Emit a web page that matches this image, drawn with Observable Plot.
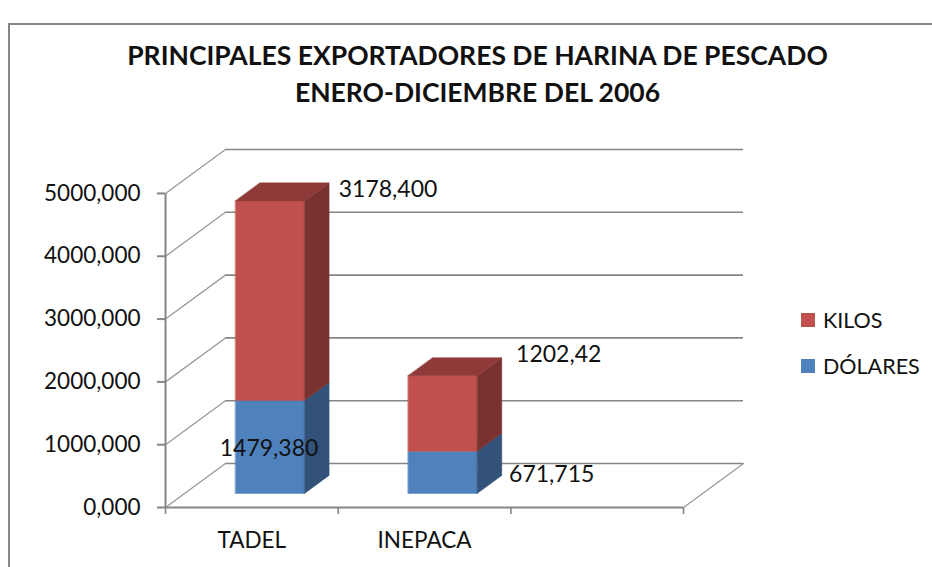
<!DOCTYPE html>
<html lang="es">
<head>
<meta charset="utf-8">
<script src="https://cdn.jsdelivr.net/npm/d3@7"></script>
<script src="https://cdn.jsdelivr.net/npm/@observablehq/plot@0.6"></script>
<style>
  html, body { margin: 0; padding: 0; background: #fff; }
  #page { position: relative; width: 932px; height: 567px; overflow: hidden; font-family: Lato, sans-serif; color: #111; }
  #frame { position: absolute; left: 8px; top: 23px; width: 1000px; height: 800px; border: 2px solid #868686; box-sizing: border-box; }
  #title { position: absolute; left: 0; top: 37px; width: 955px; text-align: center; font-weight: 700; font-size: 26.5px; line-height: 37px; }
  #chart { position: absolute; left: 0; top: 0; }
  #legend { position: absolute; left: 801px; top: 297px; font-size: 21.5px; }
  .item { display: flex; align-items: center; height: 46px; }
  .swatch { width: 14px; height: 14px; margin-right: 8px; }
</style>
</head>
<body>
<div id="page">
  <div id="frame"></div>
  <div id="chart"></div>
  <div id="title"></div>
  <div id="legend"></div>
</div>
<script>
// Data
const titleLines = ["PRINCIPALES EXPORTADORES DE HARINA DE PESCADO", "ENERO-DICIEMBRE DEL 2006"];
const categories = ["TADEL", "INEPACA", ""];
const dolares = [1479.38, 671.715];
const kilos = [3178.4, 1202.42];
const dolaresLabels = ["1479,380", "671,715"];
const kilosLabels = ["3178,400", "1202,42"];
const yTicks = [0, 1000, 2000, 3000, 4000, 5000];
const legendItems = ["KILOS", "DÓLARES"];

// Style and layout
const frontColors = {kilos: "#c0504d", dolares: "#4f81bd"};
const sideColors = {kilos: "#7a3230", dolares: "#325279"};
const topColor = "#8e3a38";
const axisColor = "#868686";
const fontSize = 22.5;
const labelFontSize = 23;
const depthX = 0.347, depthY = 700;   // oblique floor depth in data units
const barZ0 = 0.32, barZ1 = 0.73;     // bar extent within the depth
const barX0 = 0.294, barX1 = 0.694;   // bar extent within a category
const dolaresOffsets = [[-2, 48], [108, 23]];
const kilosOffsets = [[117, -11], [115, -21]];

const project = (x, y, z = 0) => ({x: x + z * depthX, y: y + z * depthY});

const poly = (points, fill) =>
  Plot.line(points, {x: "x", y: "y", fill, stroke: fill, strokeWidth: 0.5, curve: "linear-closed"});

function barFaces(i, lo, hi, series, withTop) {
  const l = i + barX0, r = i + barX1;
  const marks = [
    poly([project(l, lo, barZ0), project(r, lo, barZ0), project(r, hi, barZ0), project(l, hi, barZ0)], frontColors[series]),
    poly([project(r, lo, barZ0), project(r, lo, barZ1), project(r, hi, barZ1), project(r, hi, barZ0)], sideColors[series])
  ];
  if (withTop) marks.push(poly([project(l, hi, barZ0), project(r, hi, barZ0), project(r, hi, barZ1), project(l, hi, barZ1)], topColor));
  return marks;
}

const maxX = categories.length;
const label = (text, x, y, [dx, dy]) =>
  Plot.text([text], {x: () => x, y: () => y, text: d => d, dx, dy, fontSize: labelFontSize, fill: "#111"});

const marks = [
  // back wall lines
  Plot.ruleY(yTicks, {y: d => d + depthY, x1: depthX, x2: maxX + depthX, stroke: axisColor, strokeWidth: 1.6}),
  // left wall diagonals
  ...yTicks.map(t => Plot.line([project(0, t, 0), project(0, t, 1)], {x: "x", y: "y", stroke: "#9a9a9a", strokeWidth: 1.3})),
  // floor right edge
  Plot.line([project(maxX, 0, 0), project(maxX, 0, 1)], {x: "x", y: "y", stroke: "#9a9a9a", strokeWidth: 1.3}),
  // axis lines
  Plot.ruleX([0], {y1: 0, y2: 5000, stroke: axisColor, strokeWidth: 2}),
  Plot.ruleY([0], {x1: 0, x2: maxX, stroke: axisColor, strokeWidth: 2}),
  Plot.axisY({ticks: yTicks, tickFormat: d => d3.format(".3f")(d).replace(".", ","), tickSize: 8, tickPadding: 17,
    stroke: axisColor, strokeWidth: 2, fontSize, color: "#111", label: null, textStroke: null}),
  Plot.axisX({ticks: d3.range(maxX + 1), tickFormat: () => "", tickSize: 7, stroke: axisColor, strokeWidth: 1.6, label: null}),
  Plot.axisX({ticks: categories.map((_, i) => i + 0.5), tickFormat: d => categories[Math.floor(d)], tickSize: 0, tickPadding: 25,
    fontSize, color: "#111", label: null}),
  // bars
  ...dolares.flatMap((d, i) => [
    ...barFaces(i, 0, d, "dolares", false),
    ...barFaces(i, d, d + kilos[i], "kilos", true)
  ]),
  // data labels
  ...dolares.flatMap((d, i) => {
    const a = project(i + 0.5, d, barZ0), b = project(i + 0.5, d + kilos[i], barZ0);
    return [label(dolaresLabels[i], a.x, a.y, dolaresOffsets[i]), label(kilosLabels[i], b.x, b.y, kilosOffsets[i])];
  })
];

const chart = Plot.plot({
  width: 932, height: 567,
  marginLeft: 165, marginRight: 189, marginTop: 149, marginBottom: 60,
  style: {background: "transparent", fontFamily: "Lato, sans-serif", overflow: "visible"},
  x: {type: "linear", domain: [0, maxX + depthX]},
  y: {type: "linear", domain: [0, 5000 + depthY]},
  marks
});
document.getElementById("chart").append(chart);

document.getElementById("title").innerHTML = titleLines.map(t => `<div>${t}</div>`).join("");
const seriesColors = [frontColors.kilos, frontColors.dolares];
document.getElementById("legend").innerHTML = legendItems
  .map((t, i) => `<div class="item"><span class="swatch" style="background:${seriesColors[i]}"></span>${t}</div>`).join("");
</script>
</body>
</html>
